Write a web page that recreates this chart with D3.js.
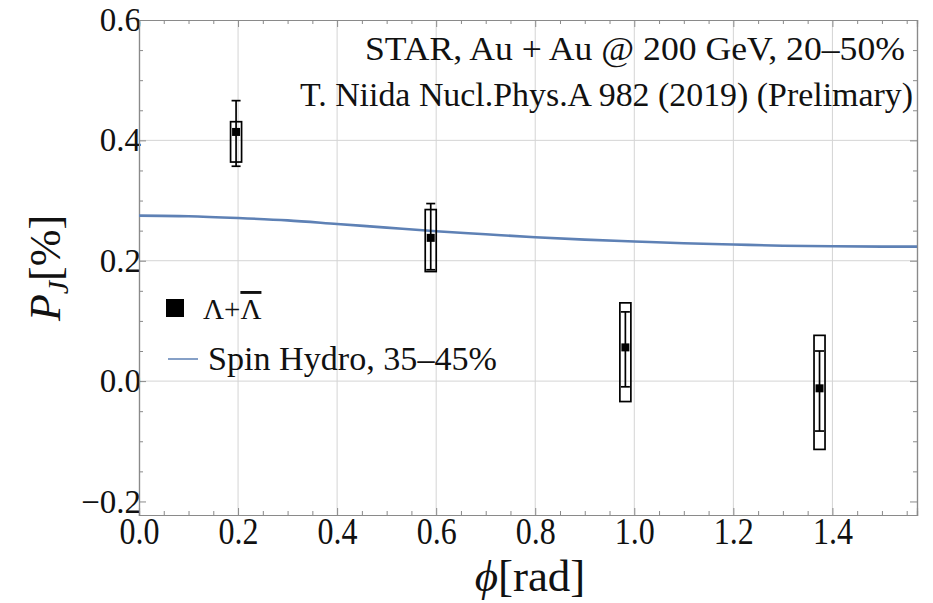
<!DOCTYPE html>
<html>
<head>
<meta charset="utf-8">
<script src="https://cdn.jsdelivr.net/npm/d3@7"></script>
<style>
  body { margin: 0; background: #fff; }
</style>
</head>
<body>
<div id="chart"></div>
<script>
// Lambda + anti-Lambda polarization vs azimuthal angle
const phi = [0.196, 0.589, 0.982, 1.374];
const pj = [0.414, 0.238, 0.056, -0.012];
const statLo = [0.357, 0.185, -0.0095, -0.083];
const statHi = [0.466, 0.295, 0.115, 0.050];
const sysLo = [0.364, 0.182, -0.034, -0.1135];
const sysHi = [0.431, 0.285, 0.130, 0.076];

// spin hydro curve, 35-45%
const hydroPhi = [0, 0.1, 0.2, 0.3, 0.4, 0.5, 0.6, 0.7, 0.8, 0.9, 1.0, 1.1, 1.2, 1.3, 1.4, 1.5, Math.PI / 2];
const hydroPJ = [0.275, 0.274, 0.271, 0.267, 0.261, 0.255, 0.249, 0.244, 0.239, 0.235, 0.232, 0.229, 0.227, 0.225, 0.224, 0.2235, 0.2235];

const xTicks = [0, 0.2, 0.4, 0.6, 0.8, 1.0, 1.2, 1.4];
const yTicks = [-0.2, 0, 0.2, 0.4, 0.6];

const width = 933, height = 603;
const m = { left: 139, right: 917, top: 20, bottom: 515 };
const serif = '"Liberation Serif"';

const svg = d3.select('#chart').append('svg')
    .attr('width', width)
    .attr('height', height)
    .style('font-family', serif);

const x = d3.scaleLinear().domain([0, Math.PI / 2]).range([m.left, m.right]);
const y = d3.scaleLinear().domain([-0.2225, 0.6]).range([m.bottom, m.top]);

// grid
svg.append('g').selectAll('line').data(xTicks.slice(1)).join('line')
    .attr('x1', d => x(d)).attr('x2', d => x(d))
    .attr('y1', m.top).attr('y2', m.bottom)
    .attr('stroke', '#d4d4d4').attr('stroke-width', 1);
svg.append('g').selectAll('line').data(yTicks.filter(d => d > -0.2 && d < 0.6)).join('line')
    .attr('x1', m.left).attr('x2', m.right)
    .attr('y1', d => y(d)).attr('y2', d => y(d))
    .attr('stroke', '#d4d4d4').attr('stroke-width', 1);

// frame with inward ticks
const minorX = d3.range(0, 1.571, 0.05).filter(v => Math.abs(v / 0.2 - Math.round(v / 0.2)) > 1e-6);
const minorY = d3.range(-0.2, 0.6001, 0.05).filter(v => Math.abs(v / 0.2 - Math.round(v / 0.2)) > 1e-6);

function styleAxis(g) {
    g.style('font-family', serif);
    g.select('.domain').attr('stroke', '#8a8a8a').attr('stroke-width', 1.2);
    g.selectAll('.tick line').attr('stroke', '#8a8a8a');
    g.selectAll('.tick text').attr('fill', '#111').style('font-family', serif);
}

svg.append('g').attr('transform', `translate(0,${m.bottom})`)
    .call(d3.axisBottom(x).tickValues(xTicks).tickSize(-7).tickPadding(3).tickFormat(d3.format('.1f')))
    .call(styleAxis)
    .call(g => g.selectAll('.tick text')
        .attr('font-size', 37).attr('dy', '0.7em')
        .attr('textLength', 40).attr('lengthAdjust', 'spacingAndGlyphs'));
svg.append('g').attr('transform', `translate(0,${m.bottom})`)
    .call(d3.axisBottom(x).tickValues(minorX).tickSize(-4).tickFormat(''))
    .call(styleAxis);
svg.append('g').attr('transform', `translate(0,${m.top})`)
    .call(d3.axisTop(x).tickValues(xTicks).tickSize(-7).tickFormat(''))
    .call(styleAxis);
svg.append('g').attr('transform', `translate(0,${m.top})`)
    .call(d3.axisTop(x).tickValues(minorX).tickSize(-4).tickFormat(''))
    .call(styleAxis);
svg.append('g').attr('transform', `translate(${m.left},0)`)
    .call(d3.axisLeft(y).tickValues(yTicks).tickSize(-7).tickPadding(5).tickFormat(d3.format('.1f')))
    .call(styleAxis)
    .call(g => g.selectAll('.tick text').attr('font-size', 33).attr('dx', 7));
svg.append('g').attr('transform', `translate(${m.left},0)`)
    .call(d3.axisLeft(y).tickValues(minorY).tickSize(-4).tickFormat(''))
    .call(styleAxis);
svg.append('g').attr('transform', `translate(${m.right},0)`)
    .call(d3.axisRight(y).tickValues(yTicks).tickSize(-7).tickFormat(''))
    .call(styleAxis);
svg.append('g').attr('transform', `translate(${m.right},0)`)
    .call(d3.axisRight(y).tickValues(minorY).tickSize(-4).tickFormat(''))
    .call(styleAxis);

// hydro curve
const line = d3.line()
    .x((d, i) => x(hydroPhi[i]))
    .y(d => y(d))
    .curve(d3.curveMonotoneX);
svg.append('path')
    .datum(hydroPJ)
    .attr('fill', 'none')
    .attr('stroke', '#5e81b5')
    .attr('stroke-width', 2.6)
    .attr('d', line);

// data points: systematic boxes, stat bars, markers
const pts = svg.append('g');
const boxW = 11, capW = 9, mk = 8;
phi.forEach((p, i) => {
    const cx = x(p);
    pts.append('rect')
        .attr('x', cx - boxW / 2).attr('y', y(sysHi[i]))
        .attr('width', boxW).attr('height', y(sysLo[i]) - y(sysHi[i]))
        .attr('fill', 'none').attr('stroke', '#000').attr('stroke-width', 1.7);
    pts.append('line')
        .attr('x1', cx).attr('x2', cx)
        .attr('y1', y(statHi[i])).attr('y2', y(statLo[i]))
        .attr('stroke', '#000').attr('stroke-width', 1.7);
    [statHi[i], statLo[i]].forEach(v => {
        pts.append('line')
            .attr('x1', cx - capW / 2).attr('x2', cx + capW / 2)
            .attr('y1', y(v)).attr('y2', y(v))
            .attr('stroke', '#000').attr('stroke-width', 1.7);
    });
    pts.append('rect')
        .attr('x', cx - mk / 2).attr('y', y(pj[i]) - mk / 2)
        .attr('width', mk).attr('height', mk)
        .attr('fill', '#000');
});

// title text
svg.append('text')
    .attr('x', 365).attr('y', 60)
    .attr('font-size', 34)
    .attr('fill', '#111')
    .style('font-family', serif)
    .attr('textLength', 540).attr('lengthAdjust', 'spacingAndGlyphs')
    .text('STAR, Au + Au @ 200 GeV, 20–50%');
svg.append('text')
    .attr('x', 300).attr('y', 106)
    .attr('font-size', 34)
    .attr('fill', '#111')
    .style('font-family', serif)
    .attr('textLength', 613).attr('lengthAdjust', 'spacingAndGlyphs')
    .text('T. Niida Nucl.Phys.A 982 (2019) (Prelimary)');

// legend
svg.append('rect')
    .attr('x', 166).attr('y', 299).attr('width', 18).attr('height', 18)
    .attr('fill', '#000');
const lam = svg.append('text')
    .attr('x', 203).attr('y', 319)
    .attr('font-size', 29)
    .attr('fill', '#111')
    .style('font-family', serif);
lam.append('tspan').text('Λ+');
lam.append('tspan').attr('text-decoration', 'overline').text('Λ');

svg.append('line')
    .attr('x1', 168).attr('x2', 198)
    .attr('y1', 359).attr('y2', 359)
    .attr('stroke', '#5e81b5').attr('stroke-width', 1.5);
svg.append('text')
    .attr('x', 208).attr('y', 370)
    .attr('font-size', 33)
    .attr('fill', '#111')
    .style('font-family', serif)
    .attr('textLength', 289).attr('lengthAdjust', 'spacingAndGlyphs')
    .text('Spin Hydro, 35–45%');

// axis titles
const yl = svg.append('text')
    .attr('transform', 'translate(60,268) rotate(-90)')
    .attr('text-anchor', 'middle')
    .attr('font-size', 44)
    .attr('fill', '#111')
    .style('font-family', serif);
yl.append('tspan').attr('font-style', 'italic').text('P');
yl.append('tspan').attr('font-style', 'italic').attr('font-size', 30).attr('dy', 8).text('J');
yl.append('tspan').attr('dy', -8).text('[%]');

const xl = svg.append('text')
    .attr('x', 530).attr('y', 591)
    .attr('text-anchor', 'middle')
    .attr('font-size', 45)
    .attr('fill', '#111')
    .style('font-family', serif);
xl.append('tspan').attr('font-style', 'italic').text('ϕ');
xl.append('tspan').text('[rad]');
</script>
</body>
</html>
